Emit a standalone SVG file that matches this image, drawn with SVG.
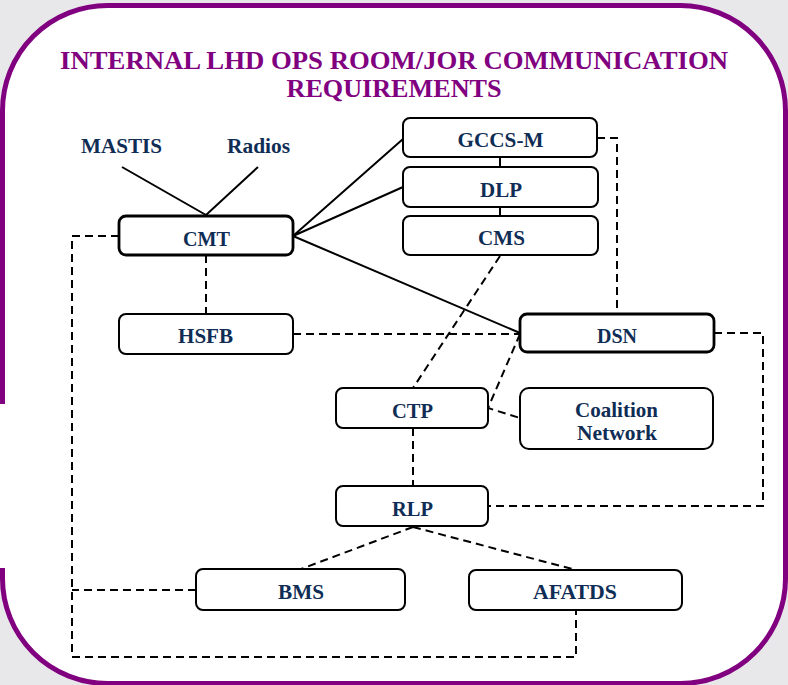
<svg xmlns="http://www.w3.org/2000/svg" width="788" height="685" viewBox="0 0 788 685">
<style>
.box{fill:#fff;stroke:#000;stroke-width:2;}
.thick{stroke-width:2.8;}
.lbl{font-family:"Liberation Serif","Times New Roman",serif;font-weight:bold;font-size:22px;fill:#0f2d55;text-anchor:middle;}
.ttl{font-family:"Liberation Serif","Times New Roman",serif;font-weight:bold;font-size:26px;fill:#800080;text-anchor:middle;}
.solid{fill:none;stroke:#000;stroke-width:2;}
.dash{fill:none;stroke:#000;stroke-width:2;stroke-dasharray:8 5;}
</style>
<rect x="0" y="0" width="788" height="685" fill="#e8e8ea"/>
<rect x="2.5" y="5.5" width="783" height="678" rx="105" ry="105" fill="#fff" stroke="#800080" stroke-width="5"/>
<rect x="0" y="404" width="6" height="164" fill="#fff"/>
<g id="title">
<text class="ttl" x="394" y="69" textLength="668" lengthAdjust="spacingAndGlyphs">INTERNAL LHD OPS ROOM/JOR COMMUNICATION</text>
<text class="ttl" x="394" y="97" textLength="215" lengthAdjust="spacingAndGlyphs">REQUIREMENTS</text>
</g>
<g id="connectors">
<path class="solid" d="M122,167 L206,215 M258,167 L206,215"/>
<path class="solid" d="M293,236 L403,139 M293,236 L403,187 M293,236 L520,333"/>
<path class="solid" d="M500,157 V167 M500,207 V216"/>
<path class="dash" d="M597,138 H617 V314"/>
<path class="dash" d="M119,236 H72 V657 H576 V610"/>
<path class="dash" d="M196,590 H72"/>
<path class="dash" d="M206,255 V314"/>
<path class="dash" d="M293,334 H520"/>
<path class="dash" d="M500,256 L413,388"/>
<path class="dash" d="M520,334 L488,408 L520,418"/>
<path class="dash" d="M413,428 V486"/>
<path class="dash" d="M714,333 H763 V506 H488"/>
<path class="dash" d="M413,527 L301,569 M413,527 L576,570"/>
</g>
<g id="MASTIS"><text class="lbl" x="121.5" y="153" textLength="81" lengthAdjust="spacingAndGlyphs">MASTIS</text></g>
<g id="Radios"><text class="lbl" x="258.5" y="153" textLength="63" lengthAdjust="spacingAndGlyphs">Radios</text></g>
<g id="CMT"><rect class="box thick" x="119" y="216" width="174" height="39" rx="7"/><text class="lbl" x="206.5" y="246" textLength="47" lengthAdjust="spacingAndGlyphs">CMT</text></g>
<g id="HSFB"><rect class="box" x="119" y="314" width="174" height="40" rx="7"/><text class="lbl" x="205.5" y="343" textLength="55" lengthAdjust="spacingAndGlyphs">HSFB</text></g>
<g id="GCCS-M"><rect class="box" x="403" y="118" width="194" height="39" rx="7"/><text class="lbl" x="500.5" y="147" textLength="86" lengthAdjust="spacingAndGlyphs">GCCS-M</text></g>
<g id="DLP"><rect class="box" x="403" y="167" width="195" height="40" rx="7"/><text class="lbl" x="501" y="197" textLength="42" lengthAdjust="spacingAndGlyphs">DLP</text></g>
<g id="CMS"><rect class="box" x="403" y="216" width="195" height="39" rx="7"/><text class="lbl" x="501.5" y="245" textLength="47" lengthAdjust="spacingAndGlyphs">CMS</text></g>
<g id="DSN"><rect class="box thick" x="520" y="314" width="194" height="38" rx="7"/><text class="lbl" x="617" y="343" textLength="40" lengthAdjust="spacingAndGlyphs">DSN</text></g>
<g id="Coalition"><rect class="box" x="520" y="388" width="193" height="61" rx="9"/><text class="lbl" x="616.5" y="417" textLength="83" lengthAdjust="spacingAndGlyphs">Coalition</text><text class="lbl" x="617" y="440" textLength="80" lengthAdjust="spacingAndGlyphs">Network</text></g>
<g id="CTP"><rect class="box" x="336" y="388" width="152" height="40" rx="7"/><text class="lbl" x="412.5" y="418" textLength="41" lengthAdjust="spacingAndGlyphs">CTP</text></g>
<g id="RLP"><rect class="box" x="336" y="486" width="152" height="40" rx="7"/><text class="lbl" x="412.5" y="516" textLength="41" lengthAdjust="spacingAndGlyphs">RLP</text></g>
<g id="BMS"><rect class="box" x="196" y="569" width="209" height="41" rx="7"/><text class="lbl" x="301" y="599" textLength="46" lengthAdjust="spacingAndGlyphs">BMS</text></g>
<g id="AFATDS"><rect class="box" x="469" y="570" width="213" height="40" rx="7"/><text class="lbl" x="575" y="599" textLength="84" lengthAdjust="spacingAndGlyphs">AFATDS</text></g>
</svg>
